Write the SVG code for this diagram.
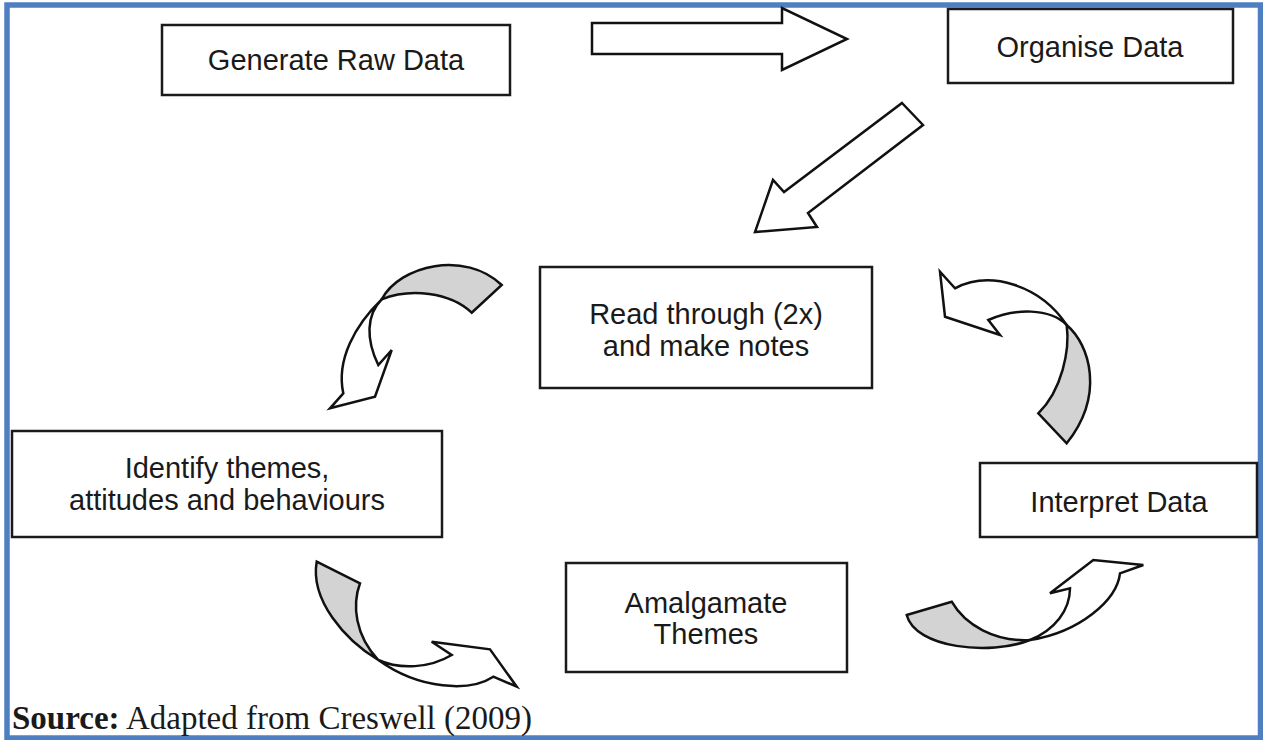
<svg xmlns="http://www.w3.org/2000/svg" width="1263" height="740" viewBox="0 0 1263 740">
<style>
.box{fill:#fff;stroke:#1a1a1a;stroke-width:2.5}
.lbl{font-family:"Liberation Sans",Arial,sans-serif;font-size:29px;fill:#1a1a1a;text-anchor:middle}
.arr{fill:#fff;stroke:#111;stroke-width:2.5;stroke-linejoin:miter}
.back{fill:#d3d3d3;stroke:#111;stroke-width:2.5;stroke-linejoin:miter}
</style>
<rect x="0" y="0" width="1263" height="740" fill="#fff"/>
<rect x="7" y="5" width="1253.5" height="733" fill="#fff" stroke="#4f7fc0" stroke-width="5.5"/>
<g id="connectors">
  <polygon class="arr" points="592,23 782,23 782,8 847,39 782,70 782,54 592,54"/>
  <polygon class="arr" points="902,103 923,125 808,213 817,227 755,232 773,180 784,192"/>
  <g id="curve-read-to-identify">
    <path class="back" d="M381.7,299.3 C400,265 465,250 501.7,285 L471.7,312.7 C450,292 410,288 381.7,299.3 Z"/>
    <path class="arr" d="M381.7,299.3 C355,325 336,360 343.3,393.3 L330,408.3 L375,396.7 L391.7,350 L378.3,365 C366,340 366,315 381.7,299.3 Z"/>
  </g>
  <g id="curve-identify-to-amalgamate">
    <path class="back" d="M316.7,561.7 L360,583.3 C352,605 355,635 378.3,660 C345,640 310,600 316.7,561.7 Z"/>
    <path class="arr" d="M378.3,660 C400,670 430,668 451.7,655 L431.7,641.7 L490,649.3 L516.7,686.7 L493.3,676.7 C470,692 420,690 378.3,660 Z"/>
  </g>
  <g id="curve-amalgamate-to-interpret">
    <path class="back" d="M906.7,615 L951.7,601.7 C965,625 995,642 1030,640 C990,656 915,648 906.7,615 Z"/>
    <path class="arr" d="M1030,640 C1055,630 1070,610 1070,588.3 L1050,593.3 L1093.3,560 L1143.3,565 L1120,573.3 C1117,600 1080,632 1030,640 Z"/>
  </g>
  <g id="curve-interpret-to-read">
    <path class="back" d="M1066.7,325 C1090,345 1105,395 1066.7,443.3 L1038.3,413.3 C1062,390 1070,350 1066.7,325 Z"/>
    <path class="arr" d="M1066.7,325 C1040,285 990,270 955,288.3 L940,271.7 L945,316.7 L1000,335 L988.3,320 C1015,308 1050,308 1066.7,325 Z"/>
  </g>
</g>
<g id="node-generate">
  <rect class="box" x="162" y="25" width="348" height="70"/>
  <text class="lbl" x="336" y="70">Generate Raw Data</text>
</g>
<g id="node-organise">
  <rect class="box" x="948" y="9" width="285" height="74"/>
  <text class="lbl" x="1090" y="57">Organise Data</text>
</g>
<g id="node-read">
  <rect class="box" x="540" y="267" width="332" height="121"/>
  <text class="lbl" x="706" y="324">Read through (2x)</text>
  <text class="lbl" x="706" y="356">and make notes</text>
</g>
<g id="node-identify">
  <rect class="box" x="12" y="431" width="430" height="106"/>
  <text class="lbl" x="227" y="478">Identify themes,</text>
  <text class="lbl" x="227" y="510">attitudes and behaviours</text>
</g>
<g id="node-interpret">
  <rect class="box" x="980" y="463" width="277" height="74"/>
  <text class="lbl" x="1119" y="512">Interpret Data</text>
</g>
<g id="node-amalgamate">
  <rect class="box" x="566" y="563" width="281" height="109"/>
  <text class="lbl" x="706" y="613">Amalgamate</text>
  <text class="lbl" x="706" y="644">Themes</text>
</g>
<text x="12" y="729" font-family="'Liberation Serif','Times New Roman',serif" font-size="33" fill="#1a1a1a"><tspan font-weight="bold">Source:</tspan> Adapted from Creswell (2009)</text>
</svg>
